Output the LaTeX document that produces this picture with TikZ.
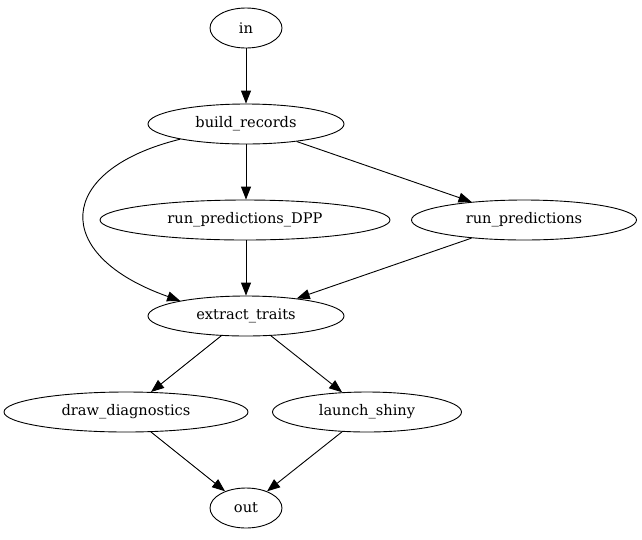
\documentclass[tikz,border=0pt]{standalone}
\usepackage{fontspec}
\setmainfont{DejaVu Serif}
\usetikzlibrary{shapes.geometric,arrows.meta}
\begin{document}
\begin{tikzpicture}[x=1pt,y=-1pt,
  nd/.style={ellipse,draw,line width=0.9pt,inner sep=0pt,minimum height=40pt,font=\fontsize{14.6}{17}\selectfont},
  ar/.style={-{Triangle[length=13pt,width=10pt]},line width=0.9pt}]
\useasboundingbox (0,0) rectangle (642,539);
\node[nd,minimum width=72pt] (in) at (246,28) {in};
\node[nd,minimum width=196pt] (br) at (246,124) {build\_records};
\node[nd,minimum width=290pt] (dpp) at (245,220) {run\_predictions\_DPP};
\node[nd,minimum width=225pt] (rp) at (524,220) {run\_predictions};
\node[nd,minimum width=196pt] (et) at (246,316) {extract\_traits};
\node[nd,minimum width=244pt] (dd) at (126,412) {draw\_diagnostics};
\node[nd,minimum width=189pt] (ls) at (367,412) {launch\_shiny};
\node[nd,minimum width=72pt] (out) at (246,508) {out};
\draw[ar] (in) -- (br);
\draw[ar] (br.south) -- (br.south |- dpp.north);
\draw[ar] (br) -- (rp);
\draw[ar] (br.193) .. controls (55,170) and (50,255) .. (et.167);
\draw[ar] (dpp.south -| et.north) -- (et.north);
\draw[ar] (rp) -- (et);
\draw[ar] (et) -- (dd);
\draw[ar] (et) -- (ls);
\draw[ar] (dd) -- (out);
\draw[ar] (ls) -- (out);
\end{tikzpicture}
\end{document}
